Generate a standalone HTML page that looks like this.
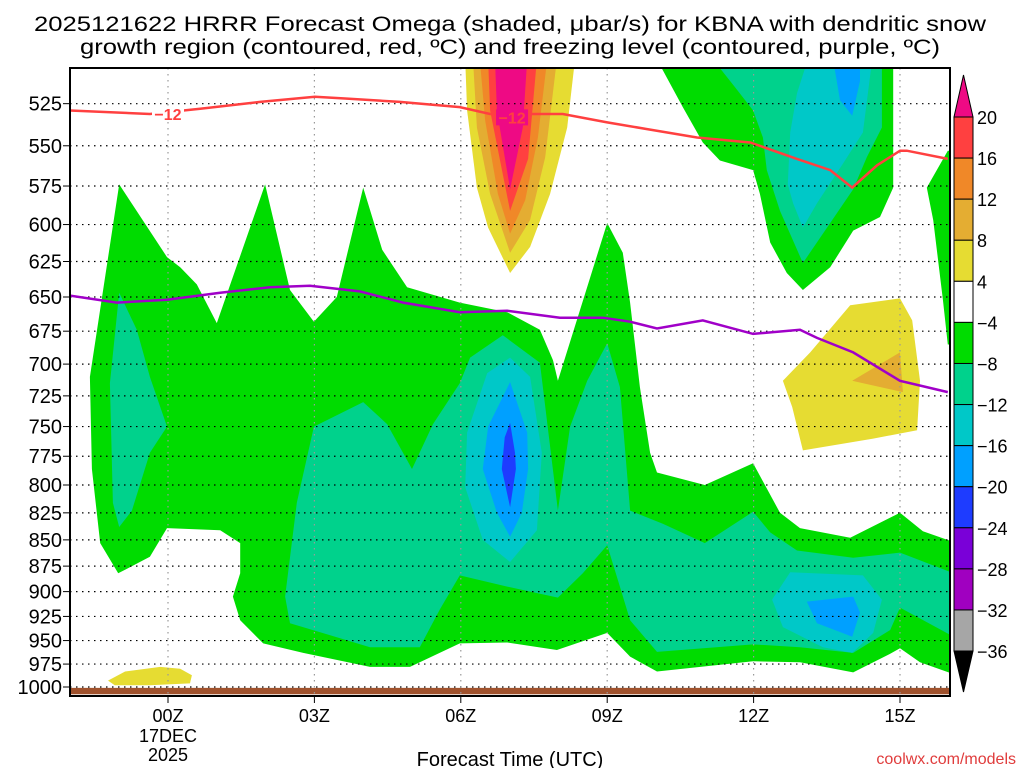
<!DOCTYPE html>
<html><head><meta charset="utf-8"><style>
html,body{margin:0;padding:0;background:#fff;}
svg{display:block;font-family:"Liberation Sans",sans-serif;}
</style></head><body>
<svg id="chart" width="1024" height="768" viewBox="0 0 1024 768">
<text x="510" y="31" font-size="21" text-anchor="middle" textLength="952" lengthAdjust="spacingAndGlyphs">2025121622 HRRR Forecast Omega (shaded, μbar/s) for KBNA with dendritic snow</text>
<text x="510" y="54" font-size="21" text-anchor="middle" textLength="860" lengthAdjust="spacingAndGlyphs">growth region (contoured, red, ºC) and freezing level (contoured, purple, ºC)</text>
<defs><clipPath id="plotclip"><rect x="70" y="68" width="880" height="628"/></clipPath></defs>
<g id="fills" clip-path="url(#plotclip)"></g>
<g id="grid" clip-path="url(#plotclip)"></g>
<g id="lines" clip-path="url(#plotclip)"></g>
<rect x="70" y="68" width="880" height="628" fill="none" stroke="#000" stroke-width="2"/>
<g id="axes"></g>
<g id="cbar"></g>
<text x="510" y="766" font-size="20" text-anchor="middle">Forecast Time (UTC)</text>
<text x="1016" y="764" font-size="16" text-anchor="end" fill="#e03c3c">coolwx.com/models</text>
</svg>
<script>
const pressureTicks=[525,550,575,600,625,650,675,700,725,750,775,800,825,850,875,900,925,950,975,1000];
const hourTicks=[0,3,6,9,12,15];
const hourTickLabels=["00Z","03Z","06Z","09Z","12Z","15Z"];
const cbarLevels=[20,16,12,8,4,-4,-8,-12,-16,-20,-24,-28,-32,-36];
const cbarColors=["#ff4040","#f08828","#e4ad32","#e6dc32","#ffffff","#00dc00","#00d28c","#00c8c8","#00a0ff","#1e3cff","#7a00d8","#a000c0","#a6a6a6"];
// shaded regions: [hour, pressure]
const greenMain=[[-1.6,710],[-1.0,574],[-0.02,622],[0.25,629],[0.59,641],[1.0,669],[1.99,574],[2.5,645],[2.99,668],[3.46,650],[4.0,576],[4.39,617],[4.9,643],[5.98,654],[6.95,661],[7.62,674],[7.89,697],[7.99,713],[9.0,599],[9.32,619],[9.47,654],[9.67,718],[9.88,772],[10.02,789],[11.0,800],[11.99,781],[12.54,825],[12.95,839],[13.98,848],[15.0,825],[15.47,842],[16.1,852],[16.1,986],[15.41,973],[15.0,958],[14.8,964],[14.04,984],[12.95,973],[11.99,972],[10.02,983],[9.47,967],[9.0,942],[7.97,960],[6.95,952],[5.98,953],[4.96,978],[4.14,978],[2.77,963],[1.95,953],[1.48,929],[1.33,905],[1.48,882],[1.48,853],[1.07,841],[-0.02,839],[-0.37,866],[-1.02,882],[-1.39,853],[-1.56,786]];
const greenUpper=[[10.02,500],[10.55,527],[10.96,548],[11.31,559],[11.99,565],[12.13,580],[12.34,612],[12.68,633],[13.01,645],[13.57,629],[14.04,604],[14.59,595],[14.86,576],[14.86,500]];
const greenRight=[[16.1,553],[15.98,553],[15.55,576],[15.68,597],[15.88,652],[15.98,685],[16.1,685]];
const tealLeft=[[-1.0,647],[-0.64,674],[-0.37,710],[-0.02,750],[-0.37,772],[-0.74,823],[-1.0,838],[-1.13,816],[-1.19,715]];
const tealMain=[[2.99,750],[4.0,730],[4.49,748],[5.0,786],[5.43,748],[5.98,715],[6.19,695],[6.86,678],[7.62,699],[7.99,823],[8.24,750],[8.59,713],[9.0,684],[9.26,718],[9.47,823],[10.14,835],[11.0,853],[11.99,824],[12.34,843],[12.89,860],[14.04,867],[15.0,862],[16.1,882],[16.1,946],[15.0,916],[14.8,939],[14.04,963],[12.95,957],[11.99,954],[10.02,962],[9.47,929],[9.26,895],[9.0,855],[8.5,882],[7.99,906],[6.95,895],[5.98,884],[5.57,918],[5.16,957],[4.14,957],[2.5,932],[2.4,905],[2.64,816]];
const cyanCenter=[[7.01,695],[7.42,710],[7.66,772],[7.56,841],[7.01,871],[6.45,850],[6.09,802],[6.13,755],[6.54,707]];
const blueCenter=[[7.01,714],[7.36,755],[7.38,786],[7.25,825],[7.01,847],[6.74,825],[6.45,786],[6.56,750]];
const darkBlueCenter=[[7.01,747],[7.11,772],[7.13,786],[7.01,820],[6.84,786],[6.9,759]];
const cyanLowRight=[[12.75,881],[14.24,884],[14.63,908],[14.45,942],[14.02,963],[13.42,957],[12.6,936],[12.38,908]];
const blueLowRight=[[13.09,910],[14.04,905],[14.18,921],[14.02,946],[13.3,932]];
const tealUpper=[[11.17,500],[11.66,517],[11.99,529],[12.19,545],[12.27,565],[12.54,591],[13.01,626],[13.57,599],[14.04,577],[14.32,557],[14.63,539],[14.63,500]];
const cyanUpper=[[13.11,500],[12.89,519],[12.75,542],[12.7,574],[12.81,586],[13.01,602],[13.3,586],[13.83,561],[14.24,542],[14.43,500]];
const blueUpper=[[13.63,500],[13.77,523],[14.02,532],[14.18,512],[14.18,500]];
const yellowPlume=[[6.09,500],[6.13,529],[6.33,576],[6.56,602],[7.01,633],[7.42,615],[7.83,580],[8.18,539],[8.34,500]];
const goldPlume=[[6.25,500],[6.33,539],[6.6,580],[7.01,619],[7.42,597],[7.73,557],[7.97,500]];
const orangePlume=[[6.39,500],[6.5,535],[6.76,580],[7.01,606],[7.32,584],[7.58,545],[7.77,500]];
const redPlume=[[6.56,500],[6.6,529],[7.01,591],[7.38,558],[7.56,500]];
const magentaPlume=[[6.7,500],[6.74,529],[7.01,577],[7.27,539],[7.36,500]];
const yellowRight=[[12.6,713],[13.16,691],[13.98,656],[15.0,651],[15.25,667],[15.41,713],[15.35,753],[14.45,760],[13.01,770],[12.79,734]];
const goldRight=[[14.02,713],[15.0,691],[15.06,722]];
const yellowLow=[[-1.23,993],[-0.88,983],[-0.16,978],[0.25,980],[0.49,987],[0.45,996],[-0.37,998],[-1.09,998]];
const groundStrip=[[-2.1,1001],[16.1,1001],[16.1,1008],[-2.1,1008]];
// contour lines
const dgzLine=[[-2.01,529],[-0.37,531],[0.66,528],[1.89,524],[3.01,521],[3.63,522],[4.75,524],[5.98,527],[6.6,531],[7.42,531],[8.09,531],[9.0,536],[10.84,545],[11.93,548],[12.89,558],[13.57,565],[14.02,576],[14.53,562],[15.0,553],[15.14,553],[15.98,558]];
const freezingLine=[[-2.01,649],[-1.05,654],[-0.02,652],[1.07,647],[2.09,643],[2.91,642],[3.93,646],[4.82,654],[5.98,661],[6.95,660],[8.03,665],[8.91,665],[9.47,668],[10.02,673],[10.96,667],[11.99,677],[12.95,674],[13.3,680],[14.04,691],[15.0,713],[15.98,722]];
const dgzLabels=[[0.0,531],[7.05,533]];

const NS='http://www.w3.org/2000/svg';
function X(h){return 168+h*48.8;}
function Y(p){return 687-905.3*Math.log(1000/p);}
function mk(tag,attrs,parent){const e=document.createElementNS(NS,tag);for(const k in attrs)e.setAttribute(k,attrs[k]);parent.appendChild(e);return e;}
function pts(a){return a.map(d=>X(d[0]).toFixed(1)+','+Y(d[1]).toFixed(1)).join(' ');}

const fills=document.getElementById('fills');
const shapes=[
 [greenMain,'#00dc00','green-region'],[greenUpper,'#00dc00','green-upper-region'],[greenRight,'#00dc00','green-right-region'],
 [tealLeft,'#00d28c','teal-left-region'],[tealMain,'#00d28c','teal-main-region'],[tealUpper,'#00d28c','teal-upper-region'],
 [cyanCenter,'#00c8c8','cyan-center-region'],[cyanLowRight,'#00c8c8','cyan-lower-right-region'],[cyanUpper,'#00c8c8','cyan-upper-region'],
 [blueCenter,'#00a0ff','blue-center-region'],[blueLowRight,'#00a0ff','blue-lower-right-region'],[blueUpper,'#00a0ff','blue-upper-region'],
 [darkBlueCenter,'#1e3cff','dark-blue-center-region'],
 [yellowPlume,'#e6dc32','yellow-plume'],[goldPlume,'#e4ad32','gold-plume'],[orangePlume,'#f08828','orange-plume'],[redPlume,'#ff4040','red-plume'],[magentaPlume,'#ee0a84','magenta-plume'],
 [yellowRight,'#e6dc32','yellow-right-region'],[goldRight,'#e4ad32','gold-right-region'],[yellowLow,'#e6dc32','yellow-low-region'],
 [groundStrip,'#a0522d','ground-strip']
];
shapes.forEach(s=>{
 const e=mk('polygon',{points:pts(s[0]),fill:s[1]},fills);
 
 
});

const grid=document.getElementById('grid');
pressureTicks.forEach(p=>{
 const l=mk('line',{x1:70,x2:950,y1:Y(p),y2:Y(p),stroke:'#000','stroke-width':1.2,'stroke-dasharray':'1.5 4.5'},grid);
 
 
});
hourTicks.forEach(h=>{
 const l=mk('line',{x1:X(h),x2:X(h),y1:68,y2:696,stroke:'#999','stroke-width':1.2,'stroke-dasharray':'1.5 4.5'},grid);
 
 
});

const lines=document.getElementById('lines');
const rl=mk('polyline',{points:pts(dgzLine),fill:'none',stroke:'#ff4040','stroke-width':2.5},lines);


const pl=mk('polyline',{points:pts(freezingLine),fill:'none',stroke:'#a000c8','stroke-width':2.5},lines);


dgzLabels.forEach((d,i)=>{
 const bg=mk('rect',{x:X(d[0])-16,y:Y(d[1])-8,width:32,height:16,fill:i===1?'#ee0a84':'#fff'},lines);
 
 
 const t=mk('text',{x:X(d[0]),y:Y(d[1])+6,'font-size':16,'font-weight':'bold',fill:'#ff4040','text-anchor':'middle'},lines);
 t.textContent='−12';
 
 
});

const axes=document.getElementById('axes');
pressureTicks.forEach(p=>{
 const t=mk('text',{x:62,y:Y(p)+7,'font-size':20,'text-anchor':'end'},axes);
 t.textContent=p;
 
 
 const tk=mk('line',{x1:63,x2:70,y1:Y(p),y2:Y(p),stroke:'#000','stroke-width':1},axes);
 
 
});
hourTicks.forEach((h,i)=>{
 const t=mk('text',{x:X(h),y:722,'font-size':18,'text-anchor':'middle'},axes);
 t.textContent=hourTickLabels[i];
 
 
 const tk=mk('line',{x1:X(h),x2:X(h),y1:696,y2:703,stroke:'#000','stroke-width':1},axes);
 
 
});
const d1=mk('text',{x:X(0),y:742,'font-size':18,'text-anchor':'middle'},axes);
d1.textContent='17DEC';


const d2=mk('text',{x:X(0),y:761,'font-size':18,'text-anchor':'middle'},axes);
d2.textContent='2025';



const cb=document.getElementById('cbar');
const cbTop=117, cbStep=41.08, cx0=954, cw=19;
const tri1=mk('polygon',{points:`${cx0},${cbTop} ${cx0+cw},${cbTop} ${cx0+cw/2},75`,fill:'#ee0a84',stroke:'#000','stroke-width':1},cb);


cbarColors.forEach((c,i)=>{
 const r=mk('rect',{x:cx0,y:cbTop+i*cbStep,width:cw,height:cbStep,fill:c,stroke:'#000','stroke-width':1},cb);
 
 
});
const bot=cbTop+cbarColors.length*cbStep;
const tri2=mk('polygon',{points:`${cx0},${bot} ${cx0+cw},${bot} ${cx0+cw/2},692`,fill:'#000',stroke:'#000','stroke-width':1},cb);


cbarLevels.forEach((v,i)=>{
 const t=mk('text',{x:977,y:cbTop+i*cbStep+7,'font-size':18},cb);
 t.textContent=v<0?'−'+(-v):String(v);
 
 
});
</script>
</body></html>
